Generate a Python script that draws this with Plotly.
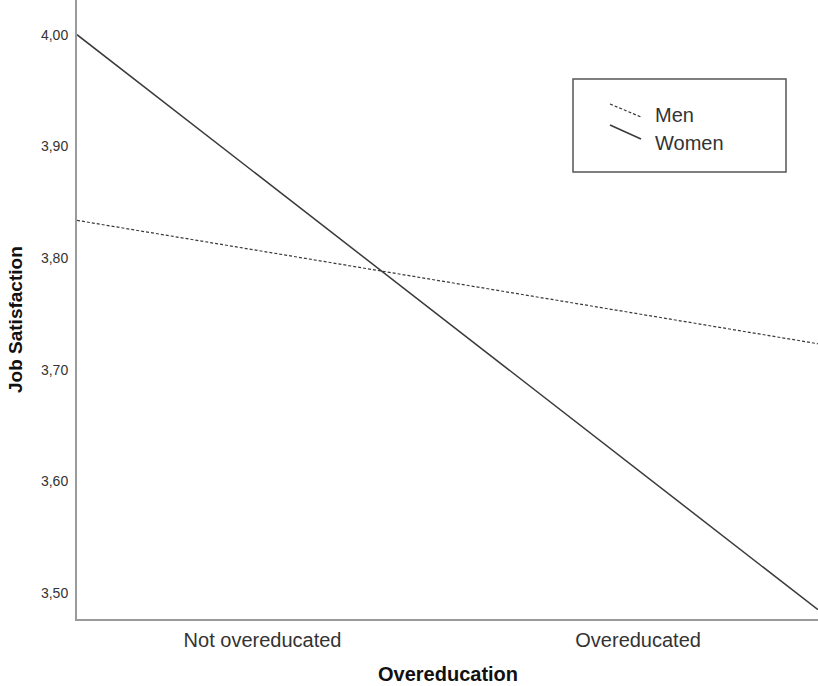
import plotly.graph_objects as go

categories = ["Not overeducated", "Overeducated"]
men = [3.806, 3.750]
women = [3.871, 3.610]
y_ticks = [3.5, 3.6, 3.7, 3.8, 3.9, 4.0]
y_tick_labels = ["3,50", "3,60", "3,70", "3,80", "3,90", "4,00"]

W, H = 818, 686
L, R, T, B = 77, 0, 0, 67
pw, ph = W - L - R, H - T - B
x_range = [-0.494, 1.479]
y_range = [3.4767, 4.031]
FONT = "Liberation Sans, Arial, sans-serif"


def extend(vals):
    # straight line through the two category means, drawn across the full axis
    slope = vals[1] - vals[0]
    return [vals[0] + slope * x for x in x_range]


def px(x):
    return (x - L) / pw


def py(y):
    return (H - B - y) / ph


fig = go.Figure()
fig.add_trace(go.Scatter(x=x_range, y=extend(men), mode="lines", name="Men",
                         line=dict(color="#3a3a3a", width=1.2, dash="3px,2px"),
                         showlegend=False))
fig.add_trace(go.Scatter(x=x_range, y=extend(women), mode="lines", name="Women",
                         line=dict(color="#3a3a3a", width=1.5),
                         showlegend=False))

shapes = [
    dict(type="rect", xref="paper", yref="paper", x0=px(573), x1=px(786), y0=py(79), y1=py(172),
         line=dict(color="#555555", width=1.5), fillcolor="white", layer="above"),
    dict(type="line", xref="paper", yref="paper", x0=px(610), x1=px(641), y0=py(104), y1=py(117),
         line=dict(color="#3a3a3a", width=1.2, dash="3px,2px")),
    dict(type="line", xref="paper", yref="paper", x0=px(610), x1=px(641), y0=py(125), y1=py(139),
         line=dict(color="#3a3a3a", width=1.5)),
]
annotations = [
    dict(text="Men", xref="paper", yref="paper", x=px(653), y=py(115), xanchor="left", yanchor="middle",
         showarrow=False, font=dict(size=20, color="#333333", family=FONT)),
    dict(text="Women", xref="paper", yref="paper", x=px(653), y=py(143), xanchor="left", yanchor="middle",
         showarrow=False, font=dict(size=20, color="#333333", family=FONT)),
    dict(text="<b>Overeducation</b>", xref="paper", yref="paper", x=px(448), y=py(674),
         xanchor="center", yanchor="middle", showarrow=False,
         font=dict(size=20, color="#111111", family=FONT)),
    dict(text="<b>Job Satisfaction</b>", xref="paper", yref="paper", x=px(15), y=py(320),
         xanchor="center", yanchor="middle", textangle=-90, showarrow=False,
         font=dict(size=19, color="#111111", family=FONT)),
]

fig.update_layout(
    width=W, height=H,
    margin=dict(l=L, r=R, t=T, b=B, autoexpand=False),
    plot_bgcolor="white", paper_bgcolor="white",
    font=dict(family=FONT, color="#333333"),
    shapes=shapes, annotations=annotations,
    showlegend=False,
)
fig.update_xaxes(
    range=x_range, tickvals=[0, 1], ticktext=categories,
    showgrid=False, zeroline=False, showline=True, linecolor="#9a9a9a", linewidth=2,
    ticks="", ticklabelstandoff=2, tickfont=dict(size=20, color="#333333"),
)
fig.update_yaxes(
    range=y_range, tickvals=y_ticks, ticktext=y_tick_labels,
    showgrid=False, zeroline=False, showline=True, linecolor="#9a9a9a", linewidth=2,
    ticks="", ticklabelstandoff=4, tickfont=dict(size=14, color="#333333"),
)

fig.write_html(
    "out.html",
    config={"displayModeBar": False},
    post_script="document.body.style.margin='0';document.body.style.overflow='hidden';"
                "Plotly.relayout('{plot_id}', {width: 818, height: 686});",
)
